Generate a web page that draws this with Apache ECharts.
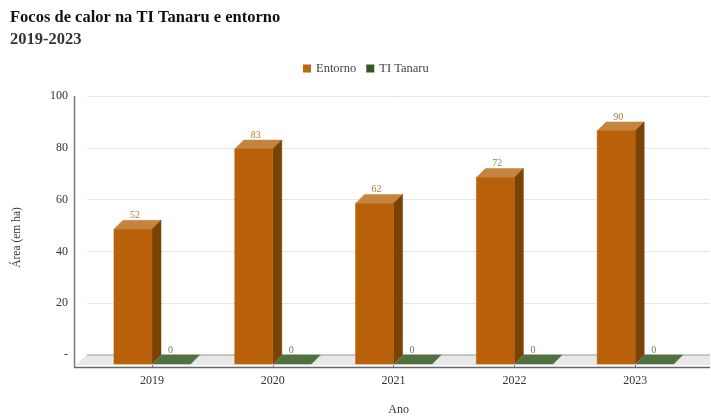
<!DOCTYPE html>
<html><head><meta charset="utf-8">
<style>html,body{margin:0;padding:0;background:#fff}#c{width:711px;height:417px}</style>
<script src="https://cdn.jsdelivr.net/npm/echarts@6/dist/echarts.min.js"></script>
</head><body><div id="c"></div>
<script>
const categories = ['2019','2020','2021','2022','2023'];
const entorno = [52,83,62,72,90];
const tiTanaru = [0,0,0,0,0];
const yTicks = {min:0,max:100,interval:20};
const FONT = '"Liberation Serif","Times New Roman",serif';
const DX = 9, DY = 9;

function pts(a){return {type:'polygon',shape:{points:a.points},style:{fill:a.fill,stroke:a.stroke||a.fill,lineWidth:0.5}};}

function tall(params, api){
  const i = api.value(0), v = api.value(1);
  const top = api.coord([i,v]), base = api.coord([i,0]);
  const w = api.size([1,0])[0]*0.315, x1 = top[0], x0 = x1-w;
  return {type:'group',children:[
    pts({points:[[x0,top[1]],[x0+DX,top[1]-DY],[x1+DX,top[1]-DY],[x1,top[1]]],fill:'#C5853F'}),
    pts({points:[[x1,top[1]],[x1+DX,top[1]-DY],[x1+DX,base[1]-DY],[x1,base[1]]],fill:'#7A4306'}),
    pts({points:[[x0,top[1]],[x1,top[1]],[x1,base[1]],[x0,base[1]]],fill:'#B8610A'}),
    {type:'text',style:{text:String(v),x:(x0+x1)/2+2,y:top[1]-DY-5,align:'center',verticalAlign:'middle',font:'10px '+FONT,fill:'#B0793F'}}
  ]};
}
function flat(params, api){
  const i = api.value(0), v = api.value(1);
  const p = api.coord([i,v]);
  const w = api.size([1,0])[0]*0.315, x0 = p[0]+0.5, x1 = x0+w;
  return {type:'group',children:[
    pts({points:[[x0,p[1]],[x0+DX,p[1]-DY],[x1+DX,p[1]-DY],[x1,p[1]]],fill:'#4F7240'}),
    {type:'text',style:{text:String(v),x:x0+18,y:p[1]-DY-5,align:'center',verticalAlign:'middle',font:'10px '+FONT,fill:'#5F7F63'}}
  ]};
}
const catData = a => a.map((v,i)=>[i,v]);

const chart = echarts.init(document.getElementById('c'));
chart.setOption({
  backgroundColor:'#fff',
  animation:false,
  textStyle:{fontFamily:FONT},
  title:[
    {text:'Focos de calor na TI Tanaru e entorno',left:10,top:9,padding:0,textStyle:{fontFamily:FONT,fontSize:16.5,fontWeight:'bold',color:'#111'}},
    {text:'2019-2023',left:10,top:31,padding:0,textStyle:{fontFamily:FONT,fontSize:16.5,fontWeight:'bold',color:'#333'}}
  ],
  legend:{top:62,left:303,padding:0,itemWidth:8,itemHeight:8,itemGap:10,icon:'rect',
    textStyle:{fontFamily:FONT,fontSize:12.5,color:'#444'},
    data:[{name:'Entorno',itemStyle:{color:'#B8690F'}},{name:'TI Tanaru',itemStyle:{color:'#2F5A22'}}]},
  grid:[
    {left:87,right:1,top:96,bottom:62,outerBoundsMode:'none'},
    {left:91.6,right:15.4,top:105,bottom:53,outerBoundsMode:'none'}
  ],
  xAxis:[
    {gridIndex:0,type:'category',data:categories,show:false},
    {gridIndex:1,type:'category',data:categories,offset:3,
      axisLine:{show:false},axisTick:{show:true,alignWithLabel:true,length:3,lineStyle:{color:'#777'}},
      axisLabel:{margin:8,fontFamily:FONT,fontSize:12,color:'#333'},
      name:'Ano',nameLocation:'middle',nameGap:37,nameTextStyle:{fontFamily:FONT,fontSize:12,color:'#333',padding:[0,0,0,10]}}
  ],
  yAxis:[
    {gridIndex:0,type:'value',min:yTicks.min,max:yTicks.max,interval:yTicks.interval,offset:13,
      axisLine:{show:false},axisTick:{show:false},splitLine:{lineStyle:{color:'#E6E6E6'}},
      axisLabel:{margin:6,fontFamily:FONT,fontSize:12,color:'#333',formatter:v=>v===0?'-':String(v)},
      name:'Área (em ha)',nameLocation:'middle',nameGap:51,nameTextStyle:{fontFamily:FONT,fontSize:11.5,color:'#333',padding:[0,24,0,0]}},
    {gridIndex:1,type:'value',min:yTicks.min,max:yTicks.max,show:false,splitLine:{show:false}}
  ],
  graphic:[
    {type:'polygon',z:1,silent:true,shape:{points:[[76,365],[87,355],[710,355],[710,365]]},style:{fill:'#E8E8E8'}},
    {type:'line',z:1,silent:true,shape:{x1:87,y1:355,x2:710,y2:355},style:{stroke:'#999',lineWidth:1}},
    {type:'line',z:1,silent:true,shape:{x1:74.5,y1:96,x2:74.5,y2:367.5},style:{stroke:'#777',lineWidth:1.5}},
    {type:'line',z:1,silent:true,shape:{x1:74,y1:367.5,x2:710,y2:367.5},style:{stroke:'#666',lineWidth:1.5}}
  ],
  series:[
    {name:'Entorno',type:'custom',xAxisIndex:1,yAxisIndex:1,z:5,clip:false,renderItem:tall,data:catData(entorno),encode:{x:0,y:1},itemStyle:{color:'#B8690F'}},
    {name:'TI Tanaru',type:'custom',xAxisIndex:1,yAxisIndex:1,z:4,clip:false,renderItem:flat,data:catData(tiTanaru),encode:{x:0,y:1},itemStyle:{color:'#2F5A22'}}
  ]
});
</script></body></html>
